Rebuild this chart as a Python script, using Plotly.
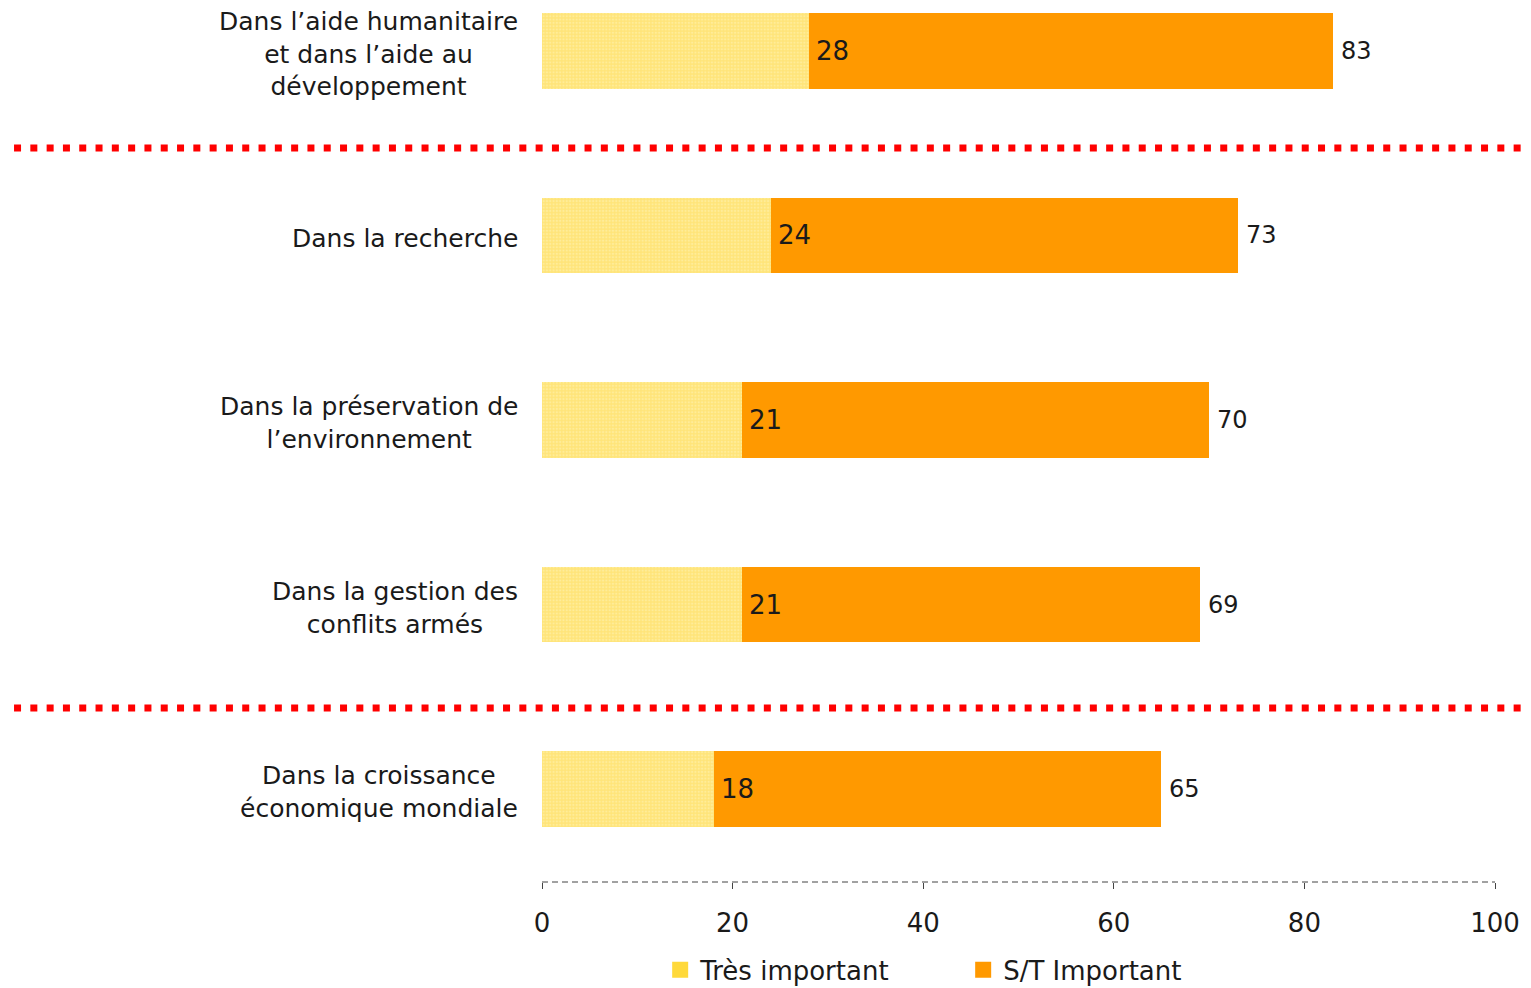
import plotly.graph_objects as go

categories = [
    "Dans l’aide humanitaire<br>et dans l’aide au<br>développement",
    "Dans la recherche",
    "Dans la préservation de<br>l’environnement",
    "Dans la gestion des<br>conflits armés",
    "Dans la croissance<br>économique mondiale",
]
tres_important = [28, 24, 21, 21, 18]
total_important = [83, 73, 70, 69, 65]
x_ticks = [0, 20, 40, 60, 80, 100]

assez_important = [t - v for t, v in zip(total_important, tres_important)]

FONT = "DejaVu Sans"
TXT = "#1a1a1a"
YELLOW = "#FFE47A"
ORANGE = "#FF9900"

fig = go.Figure()
fig.add_trace(go.Bar(
    y=categories, x=tres_important, orientation="h", name="Très important",
    width=0.41, showlegend=False,
    marker=dict(color=YELLOW, line=dict(width=0),
                pattern=dict(shape=".", fgcolor="#FFF3B8", bgcolor=YELLOW,
                             size=3.3, solidity=0.35)),
    hoverinfo="skip",
))
fig.add_trace(go.Bar(
    y=categories, x=assez_important, orientation="h", name="S/T Important",
    width=0.41, showlegend=False,
    marker=dict(color=ORANGE, line=dict(width=0)),
    hoverinfo="skip",
))
# legend entries with larger square swatches
fig.add_trace(go.Scatter(x=[None], y=[None], mode="markers", name="Très important",
                         marker=dict(symbol="square", size=19, color="#FFD93A")))
fig.add_trace(go.Scatter(x=[None], y=[None], mode="markers", name="S/T Important",
                         marker=dict(symbol="square", size=19, color=ORANGE)))

annotations = []
for c, v, t in zip(categories, tres_important, total_important):
    annotations.append(dict(x=v, y=c, xref="x", yref="y", text=str(v),
                            showarrow=False, xanchor="left", xshift=5,
                            font=dict(family=FONT, size=26, color=TXT)))
    annotations.append(dict(x=t, y=c, xref="x", yref="y", text=str(t),
                            showarrow=False, xanchor="left", xshift=6,
                            font=dict(family=FONT, size=24, color=TXT)))
    annotations.append(dict(x=0, y=c, xref="paper", yref="y", text=c,
                            showarrow=False, xanchor="right", align="center",
                            xshift=-22, yshift=-3,
                            font=dict(family=FONT, size=25, color=TXT)))

shapes = [
    dict(type="line", xref="x", yref="paper", x0=0, x1=100, y0=0, y1=0,
         line=dict(color="#444444", width=1, dash="6px,4px")),
]
for yv in [0.526, 3.561]:
    shapes.append(dict(type="line", xref="paper", yref="y", x0=-0.554, x1=1.04,
                       y0=yv, y1=yv,
                       line=dict(color="#FF0000", width=7, dash="7px,9.3px")))

fig.update_layout(
    width=1515, height=980, autosize=False,
    margin=dict(l=534, r=28, t=0, b=106),
    paper_bgcolor="white", plot_bgcolor="white",
    barmode="stack", bargap=0,
    showlegend=True,
    legend=dict(orientation="h", x=0.124, xref="paper",
                y=0.0184, yref="container", xanchor="left", yanchor="middle",
                font=dict(family=FONT, size=26, color=TXT),
                entrywidth=258, traceorder="normal"),
    xaxis=dict(range=[0, 100], tickvals=x_ticks, showgrid=False, zeroline=False,
               showline=False, ticks="outside", ticklen=6, tickcolor="#444444",
               tickfont=dict(family=FONT, size=26, color=TXT),
               ticklabelstandoff=12, fixedrange=True),
    yaxis=dict(type="category", categoryorder="array", categoryarray=categories,
               range=[4.504, -0.233], showticklabels=False, showgrid=False,
               zeroline=False, showline=False, ticks="", fixedrange=True),
    annotations=annotations,
    shapes=shapes,
    font=dict(family=FONT, color=TXT),
)

fig.write_html("out.html")
